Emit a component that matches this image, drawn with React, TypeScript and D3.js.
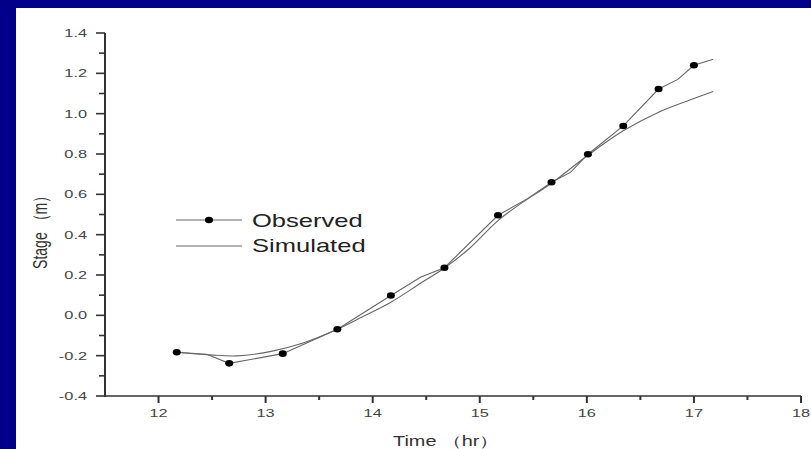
import React from "react";
import * as d3 from "d3";

// Observed markers
const obsTime = [12.17, 12.66, 13.16, 13.67, 14.17, 14.67, 15.17, 15.67, 16.01, 16.34, 16.67, 17.0];
const obsStage = [-0.183, -0.238, -0.19, -0.069, 0.098, 0.236, 0.496, 0.66, 0.799, 0.939, 1.122, 1.24];

// Observed trace (line)
const obsTraceTime = [12.17, 12.45, 12.66, 13.16, 13.67, 14.17, 14.45, 14.67, 15.17, 15.45, 15.67, 15.85, 16.01, 16.34, 16.67, 16.85, 17.0, 17.18];
const obsTraceStage = [-0.183, -0.193, -0.238, -0.19, -0.069, 0.098, 0.19, 0.236, 0.496, 0.58, 0.66, 0.71, 0.799, 0.939, 1.122, 1.17, 1.24, 1.27];

// Simulated
const simTime = [12.17, 12.48, 12.73, 13.04, 13.35, 13.66, 13.91, 14.17, 14.45, 14.67, 14.9, 15.17, 15.4, 15.67, 16.0, 16.34, 16.68, 17.0, 17.18];
const simStage = [-0.183, -0.196, -0.201, -0.18, -0.137, -0.072, -0.006, 0.065, 0.16, 0.235, 0.33, 0.47, 0.56, 0.655, 0.79, 0.915, 1.01, 1.075, 1.11];

const xMajor = [12, 13, 14, 15, 16, 17, 18];
const xMinor = [12.5, 13.5, 14.5, 15.5, 16.5, 17.5];
const yMajor = [-0.4, -0.2, 0.0, 0.2, 0.4, 0.6, 0.8, 1.0, 1.2, 1.4];
const yMinor = [-0.3, -0.1, 0.1, 0.3, 0.5, 0.7, 0.9, 1.1, 1.3];

const seriesNames = ["Observed", "Simulated"];
const xTitle = "Time （hr）";
const yTitle = "Stage （m）";

const SX = 1.42; // horizontal stretch of the source picture
const FONT = "'Liberation Sans', Arial, sans-serif";
const AXIS = "#333";
const LINE = "#666";

export default function App() {
  const x = d3.scaleLinear().domain([11.5, 18]).range([105, 801]);
  const y = d3.scaleLinear().domain([-0.4, 1.4]).range([396, 33]);

  const lin = d3.line<[number, number]>().x((d) => x(d[0])).y((d) => y(d[1]));
  const smooth = d3
    .line<[number, number]>()
    .x((d) => x(d[0]))
    .y((d) => y(d[1]))
    .curve(d3.curveCatmullRom);

  const obsTrace = obsTraceTime.map((t, i) => [t, obsTraceStage[i]] as [number, number]);
  const sim = simTime.map((t, i) => [t, simStage[i]] as [number, number]);

  const x0 = x.range()[0];
  const y0 = y.range()[0];

  return (
    <svg
      width={811}
      height={449}
      style={{ position: "absolute", left: 0, top: 0 }}
      fontFamily={FONT}
    >
      <rect x={0} y={0} width={811} height={449} fill="#00008B" />
      <rect x={16} y={8} width={795} height={441} fill="#ffffff" />

      {/* lines */}
      <path d={smooth(sim) || ""} fill="none" stroke={LINE} strokeWidth={1.1} />
      <path d={lin(obsTrace) || ""} fill="none" stroke={LINE} strokeWidth={1.1} />
      {obsTime.map((t, i) => (
        <ellipse key={i} cx={x(t)} cy={y(obsStage[i])} rx={4} ry={3.3} fill="#000" />
      ))}

      {/* y axis */}
      <line x1={x0} x2={x0} y1={y(1.4)} y2={y0 + 1} stroke={AXIS} strokeWidth={2} />
      {yMajor.map((v) => (
        <g key={"ym" + v}>
          <line x1={x0 - 9} x2={x0} y1={y(v)} y2={y(v)} stroke={AXIS} strokeWidth={1.6} />
          <text
            transform={`translate(87,${y(v)}) scale(${SX},1)`}
            textAnchor="end"
            dy="0.35em"
            fontSize={11.5}
            fill="#444"
          >
            {v.toFixed(1)}
          </text>
        </g>
      ))}
      {yMinor.map((v) => (
        <line key={"yn" + v} x1={x0 - 6} x2={x0} y1={y(v)} y2={y(v)} stroke={AXIS} strokeWidth={1.6} />
      ))}

      {/* x axis */}
      <line x1={x0} x2={x(18)} y1={y0} y2={y0} stroke={AXIS} strokeWidth={1.5} />
      {xMajor.map((v) => (
        <g key={"xm" + v}>
          <line x1={x(v)} x2={x(v)} y1={y0} y2={y0 + 7} stroke={AXIS} strokeWidth={2} />
          <text
            transform={`translate(${x(v)},417) scale(${SX},1)`}
            textAnchor="middle"
            fontSize={11.5}
            fill="#444"
          >
            {v}
          </text>
        </g>
      ))}
      {xMinor.map((v) => (
        <line key={"xn" + v} x1={x(v)} x2={x(v)} y1={y0} y2={y0 + 4} stroke={AXIS} strokeWidth={2} />
      ))}

      {/* titles */}
      <text
        transform={`translate(446,446) scale(${SX},1)`}
        textAnchor="middle"
        fontSize={14}
        fill="#333"
      >
        {xTitle}
      </text>
      <text
        transform={`translate(47,229) scale(${SX},1) rotate(-90)`}
        textAnchor="middle"
        fontSize={14}
        fill="#333"
      >
        {yTitle}
      </text>

      {/* legend */}
      <line x1={176} x2={242} y1={220} y2={220} stroke={LINE} strokeWidth={1.1} />
      <ellipse cx={209} cy={220} rx={4} ry={3.3} fill="#000" />
      <text transform={`translate(252,227) scale(${SX},1)`} fontSize={18} fill="#222">
        {seriesNames[0]}
      </text>
      <line x1={176} x2={242} y1={246} y2={246} stroke={LINE} strokeWidth={1.1} />
      <text transform={`translate(252,252) scale(${SX},1)`} fontSize={18} fill="#222">
        {seriesNames[1]}
      </text>
    </svg>
  );
}
